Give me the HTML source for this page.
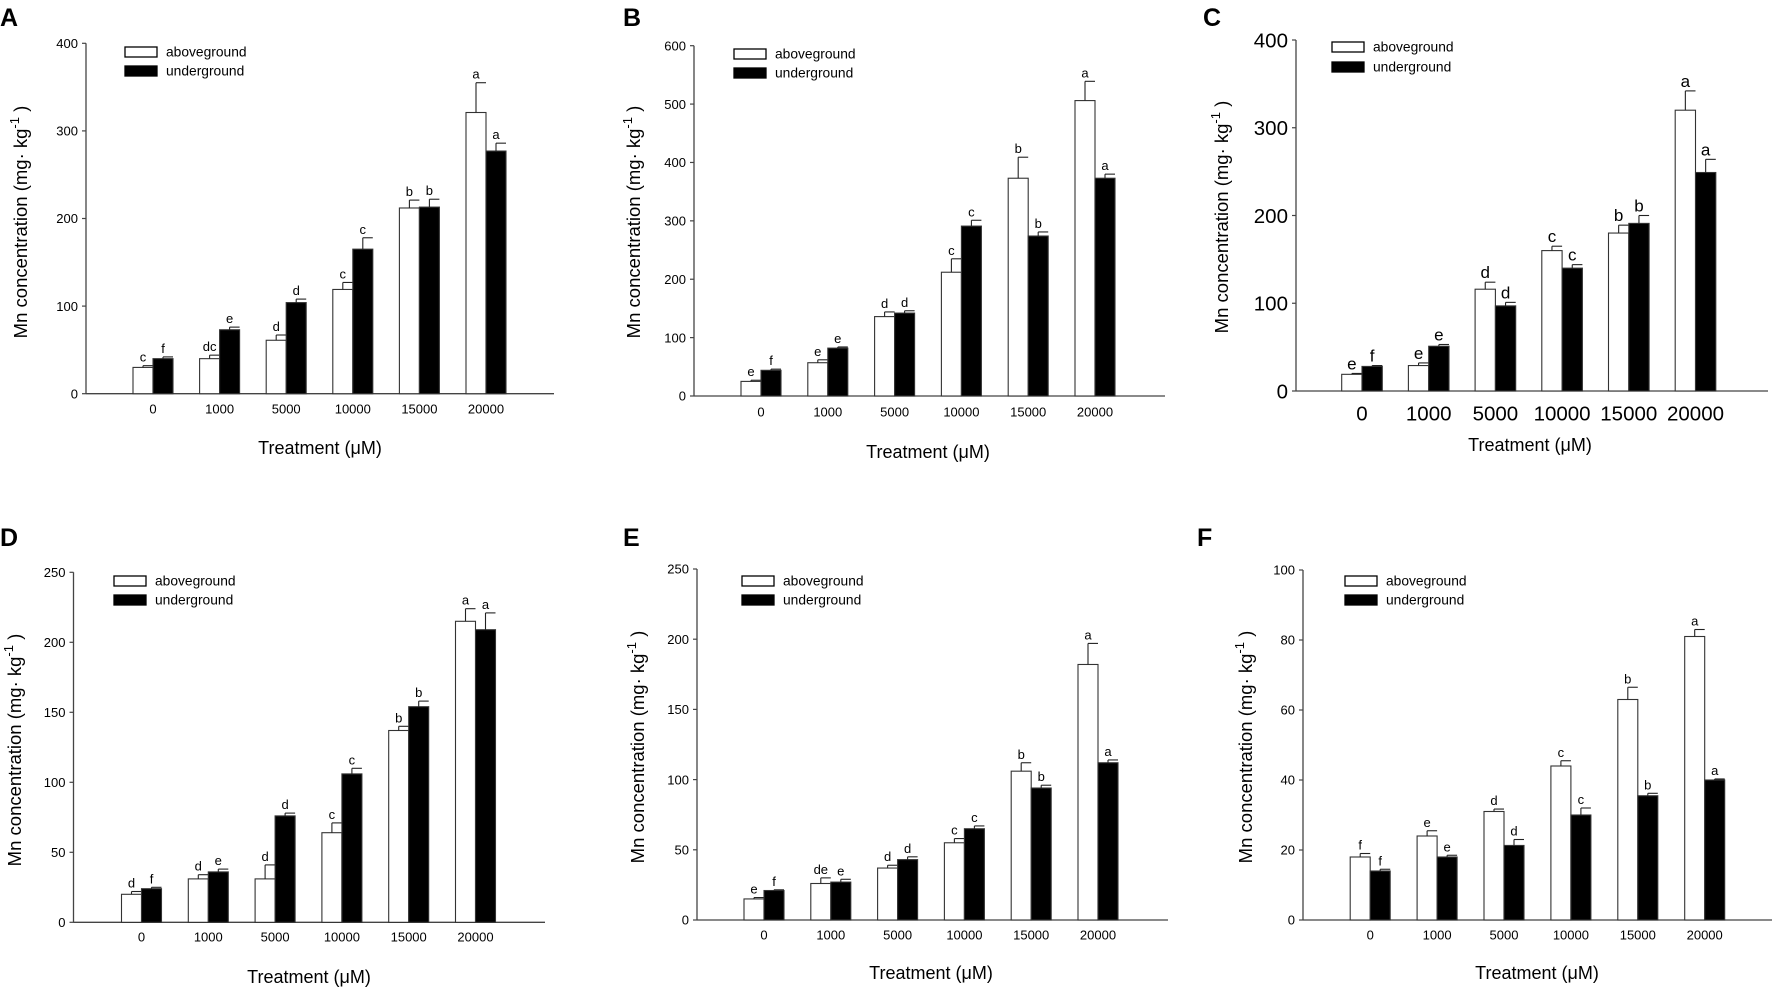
<!DOCTYPE html>
<html><head><meta charset="utf-8"><style>
html,body{margin:0;padding:0;background:#fff;}
svg{display:block;font-family:"Liberation Sans",Arial,sans-serif;}
</style></head><body>
<svg id="fig" width="1772" height="987" viewBox="0 0 1772 987" xmlns="http://www.w3.org/2000/svg"></svg>
<script>
const categories = ["0","1000","5000","10000","15000","20000"];

const aAbove = [30,40,61,119,212,321], aAboveErr = [2,4,6,8,9,34];
const aUnder = [40,73,104,165,213,277], aUnderErr = [2,3,4,13,9,9];
const aAboveLbl = ["c","dc","d","c","b","a"], aUnderLbl = ["f","e","d","c","b","a"];
const aTicks = [0,100,200,300,400];

const bAbove = [25,57,136,212,373,506], bAboveErr = [2,5,8,23,36,33];
const bUnder = [44,82,142,291,274,373], bUnderErr = [2,2,4,10,7,7];
const bAboveLbl = ["e","e","d","c","b","a"], bUnderLbl = ["f","e","d","c","b","a"];
const bTicks = [0,100,200,300,400,500,600];

const cAbove = [19,29,116,160,180,320], cAboveErr = [1,3,8,5,9,22];
const cUnder = [28,51,97,140,191,249], cUnderErr = [1,2,4,4,9,15];
const cAboveLbl = ["e","e","d","c","b","a"], cUnderLbl = ["f","e","d","c","b","a"];
const cTicks = [0,100,200,300,400];

const dAbove = [20,31,31,64,137,215], dAboveErr = [2,3,10,7,3,9];
const dUnder = [24,36,76,106,154,209], dUnderErr = [1,2,2,4,4,12];
const dAboveLbl = ["d","d","d","c","b","a"], dUnderLbl = ["f","e","d","c","b","a"];
const dTicks = [0,50,100,150,200,250];

const eAbove = [15,26,37,55,106,182], eAboveErr = [1,4,2,3,6,15];
const eUnder = [21,27,43,65,94,112], eUnderErr = [0.5,2,2,2,2,2];
const eAboveLbl = ["e","de","d","c","b","a"], eUnderLbl = ["f","e","d","c","b","a"];
const eTicks = [0,50,100,150,200,250];

const fAbove = [18,24,31,44,63,81], fAboveErr = [1,1.5,0.7,1.5,3.5,2];
const fUnder = [14,18,21.3,30,35.5,40], fUnderErr = [0.5,0.5,1.7,2,0.7,0.3];
const fAboveLbl = ["f","e","d","c","b","a"], fUnderLbl = ["f","e","d","c","b","a"];
const fTicks = [0,20,40,60,80,100];

const NS = "http://www.w3.org/2000/svg";
const svg = document.getElementById("fig");
function mk(tag, attrs, parent, text){
  const e = document.createElementNS(NS, tag);
  for (const k in attrs) e.setAttribute(k, attrs[k]);
  if (text !== undefined) e.textContent = text;
  parent.appendChild(e);
  return e;
}

function panel(p, above, aErr, under, uErr, aLbl, uLbl, ticks){
  const g = mk("g", {}, svg);
  
  
  const yMax = ticks[ticks.length-1];
  const y = v => p.y0 - (v / yMax) * (p.y0 - p.yTop);
  const x = i => p.c0 + i * p.step;

  const letter = mk("text", {x:p.lx, y:p.ly, "font-size":25, "font-weight":"bold"}, g, p.id);
  
  

  const ya = mk("line", {x1:p.ax, y1:p.yTop, x2:p.ax, y2:p.y0, stroke:"#444", "stroke-width":1.3}, g);
  
  
  const xa = mk("line", {x1:p.ax, y1:p.y0, x2:p.xEnd, y2:p.y0, stroke:"#444", "stroke-width":1.3}, g);
  
  

  ticks.forEach(t => {
    mk("line", {x1:p.ax-4, y1:y(t), x2:p.ax, y2:y(t), stroke:"#444", "stroke-width":1.2}, g);
    const tl = mk("text", {x:p.ax-8, y:y(t)+p.tf*0.36, "font-size":p.tf, "text-anchor":"end"}, g, String(t));
    
    
  });

  categories.forEach((c, i) => {
    const cx = x(i);
    const xl = mk("text", {x:cx, y:p.tickY + p.tf*0.36, "font-size":p.tf, "text-anchor":"middle"}, g, c);
    
    
    [[above[i], aErr[i], aLbl[i], cx - p.bw, "#fff", "aboveground"], [under[i], uErr[i], uLbl[i], cx, "#000", "underground"]].forEach(([v, e, l, bx, fill, nm]) => {
      const top = y(v), etop = y(v + e), mid = bx + p.bw/2;
      const r = mk("rect", {x:bx, y:top, width:p.bw, height:p.y0-top, fill:fill, stroke:"#333", "stroke-width":1.1}, g);
      
      
      mk("line", {x1:mid, y1:top, x2:mid, y2:etop, stroke:"#222", "stroke-width":1.1}, g);
      mk("line", {x1:mid, y1:etop, x2:mid + p.bw*0.5, y2:etop, stroke:"#222", "stroke-width":1.1}, g);
      const lt = mk("text", {x:mid, y:etop - 4, "font-size":p.lf, "text-anchor":"middle"}, g, l);
      
      
    });
  });

  [["aboveground","#fff",p.lgy1],["underground","#000",p.lgy2]].forEach(([nm, fill, yy]) => {
    const lg = mk("g", {}, g);
    
    
    mk("rect", {x:p.lgx, y:yy, width:32, height:10, fill:fill, stroke:"#000", "stroke-width":1.3}, lg);
    mk("text", {x:p.lgx+41, y:yy+9.5, "font-size":13.8}, lg, nm);
  });

  const xt = mk("text", {x:p.xtX, y:p.xtY, "font-size":18, "text-anchor":"middle"}, g);
  
  
  xt.textContent = "Treatment (\u03bcM)";
  const yt = mk("text", {transform:"translate(" + p.ytX + "," + p.ytY + ") rotate(-90)", "font-size":18.5, "text-anchor":"middle"}, g);
  
  
  mk("tspan", {}, yt, "Mn concentration (mg\u00b7 kg");
  mk("tspan", {dy:-8, "font-size":13}, yt, "-1");
  mk("tspan", {dy:8}, yt, " )");
}

panel({id:"A", lx:0, ly:26, ax:86, yTop:43.3, y0:393.7, xEnd:554, c0:153, step:66.6, bw:20, tickY:409, tf:13, lf:13, lgx:125, lgy1:47, lgy2:66, xtX:320, xtY:454, ytX:27, ytY:222},
  aAbove, aAboveErr, aUnder, aUnderErr, aAboveLbl, aUnderLbl, aTicks);
panel({id:"B", lx:623, ly:26, ax:694, yTop:45.7, y0:396, xEnd:1165, c0:761, step:66.8, bw:20, tickY:412, tf:13, lf:13, lgx:734, lgy1:49, lgy2:68, xtX:928, xtY:458, ytX:640, ytY:222},
  bAbove, bAboveErr, bUnder, bUnderErr, bAboveLbl, bUnderLbl, bTicks);
panel({id:"C", lx:1203, ly:26, ax:1296, yTop:40, y0:391, xEnd:1768, c0:1362, step:66.7, bw:20.3, tickY:413, tf:20.5, lf:17, lgx:1332, lgy1:42, lgy2:62, xtX:1530, xtY:451, ytX:1228, ytY:217},
  cAbove, cAboveErr, cUnder, cUnderErr, cAboveLbl, cUnderLbl, cTicks);
panel({id:"D", lx:0, ly:546, ax:73.5, yTop:572.3, y0:922.3, xEnd:545, c0:141.5, step:66.8, bw:20, tickY:937, tf:13, lf:13, lgx:114, lgy1:576, lgy2:595, xtX:309, xtY:983, ytX:21, ytY:750},
  dAbove, dAboveErr, dUnder, dUnderErr, dAboveLbl, dUnderLbl, dTicks);
panel({id:"E", lx:623, ly:546, ax:697, yTop:569, y0:920, xEnd:1168, c0:764, step:66.8, bw:20, tickY:935, tf:13, lf:13, lgx:742, lgy1:576, lgy2:595, xtX:931, xtY:979, ytX:644, ytY:747},
  eAbove, eAboveErr, eUnder, eUnderErr, eAboveLbl, eUnderLbl, eTicks);
panel({id:"F", lx:1197, ly:546, ax:1303, yTop:570, y0:920, xEnd:1772, c0:1370.2, step:66.9, bw:20, tickY:935, tf:13, lf:13, lgx:1345, lgy1:576, lgy2:595, xtX:1537, xtY:979, ytX:1252, ytY:747},
  fAbove, fAboveErr, fUnder, fUnderErr, fAboveLbl, fUnderLbl, fTicks);
</script>
</body></html>
